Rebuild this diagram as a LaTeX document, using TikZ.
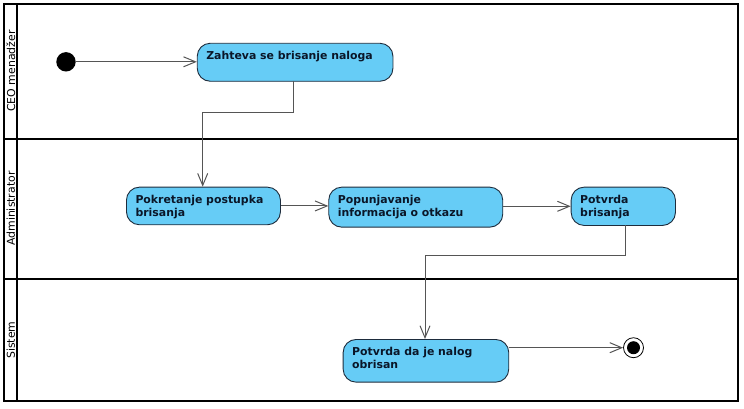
\documentclass[tikz,border=0pt]{standalone}
\usepackage{fontspec}
\setmainfont{DejaVu Sans}
\usetikzlibrary{arrows.meta,calc}
\definecolor{actfill}{RGB}{102,204,246}
\definecolor{actdraw}{RGB}{30,44,60}
\definecolor{acttext}{RGB}{10,22,40}
\definecolor{conn}{RGB}{85,85,85}
\tikzset{
  act/.style={draw=actdraw, fill=actfill, line width=0.9pt, rounded corners=13pt, inner sep=0pt, anchor=north west},
  acttxt/.style={anchor=north west, inner sep=0pt, align=left, text=acttext, font=\fontsize{10.9}{13.3}\selectfont\bfseries},
  lane/.style={draw=black, line width=2pt},
  lanelbl/.style={rotate=90, inner sep=0pt, font=\fontsize{10.9}{13}\selectfont},
  flow/.style={draw=conn, line width=1pt, -{Straight Barb[length=12pt,width=10pt,line width=1pt]}},
}
\begin{document}
\begin{tikzpicture}[x=1pt,y=-1pt]
\useasboundingbox (0,0) rectangle (744,408);
% swimlanes
\draw[lane] (4,4) rectangle (738,401);
\draw[lane] (17,4) -- (17,401);
\draw[lane] (4,139) -- (738,139);
\draw[lane] (4,279) -- (738,279);
\node[lanelbl] (l1) at (10.8,71) {CEO menadžer};
\node[lanelbl] (l2) at (10.8,208.6) {Administrator};
\node[lanelbl] (l3) at (10.8,340.2) {Sistem};
% start / end
\node[circle, fill=black, minimum size=19.4pt, inner sep=0pt] (start) at (66,61.8) {};
\node[circle, draw=black, fill=white, line width=0.8pt, minimum size=20pt, inner sep=0pt] (end) at (633.5,347.7) {};
\node[circle, fill=black, minimum size=13pt, inner sep=0pt] (endin) at (end.center) {};
% actions
\node[act, minimum width=195.7pt, minimum height=38pt] (A) at (196.8,42.8) {};
\node[act, minimum width=154pt, minimum height=37.6pt] (B) at (126,186.7) {};
\node[act, minimum width=174pt, minimum height=40pt] (C) at (328.3,186.7) {};
\node[act, minimum width=104.3pt, minimum height=38.3pt] (D) at (570.7,186.7) {};
\node[act, minimum width=165.6pt, minimum height=42.7pt] (E) at (342.7,339) {};
\node[acttxt] (At) at ($(A.north west)+(9.3,7)$) {\strut Zahteva se brisanje naloga};
\node[acttxt] (Bt) at ($(B.north west)+(9.3,7)$) {\strut Pokretanje postupka\\brisanja};
\node[acttxt] (Ct) at ($(C.north west)+(9.3,7)$) {\strut Popunjavanje\\informacija o otkazu};
\node[acttxt] (Dt) at ($(D.north west)+(9.3,7)$) {\strut Potvrda\\brisanja};
\node[acttxt] (Et) at ($(E.north west)+(9.3,7)$) {\strut Potvrda da je nalog\\obrisan};
% connector bends
\coordinate (a1) at (293.3,80.8);
\coordinate (a2) at (293.3,112.7);
\coordinate (a3) at (202.7,112.7);
\coordinate (d1) at (625,225);
\coordinate (d2) at (625,255);
\coordinate (d3) at (425,255);
% flows
\draw[flow] (start.east) -- (start.east -| A.west);
\draw[flow] (a1) -- (a2) -- (a3) -- (a3 |- B.north);
\draw[flow] (B.east) -- (B.east -| C.west);
\draw[flow] (D.west -| C.east) -- (D.west);
\draw[flow] (d1) -- (d2) -- (d3) -- (d3 |- E.north);
\draw[flow] (E.east |- end) -- (end.west);
\end{tikzpicture}
\end{document}
